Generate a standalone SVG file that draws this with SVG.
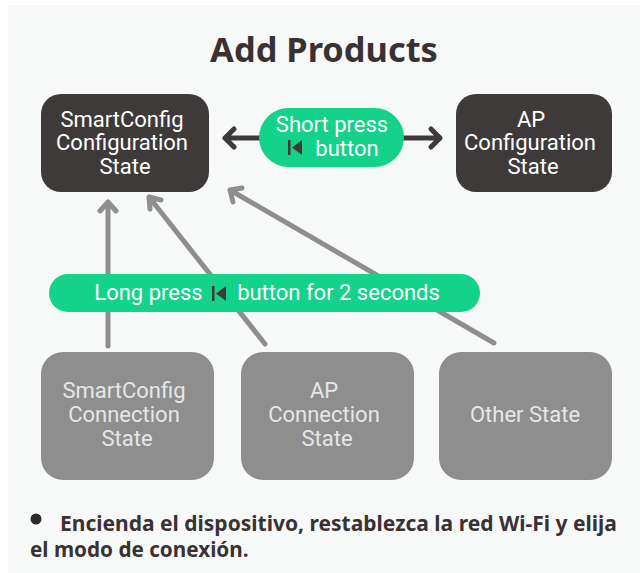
<svg xmlns="http://www.w3.org/2000/svg" width="640" height="573" viewBox="0 0 640 573">
<style>
.n{font-family:Roboto,"Liberation Sans",sans-serif;font-size:22px;font-weight:400;text-anchor:middle}
.w{fill:#fff}
.g{fill:#e6e6e6}
.dark{fill:#3e3a39}
.grey{fill:#8e8e8e}
.green{fill:#15d28a}
.ca{fill:none;stroke:#8e8e8e;stroke-width:5;stroke-linecap:round;stroke-linejoin:round}
.cd{fill:none;stroke:#3e3a39;stroke-width:5;stroke-linecap:round;stroke-linejoin:round}
.b{font-family:"Noto Sans","Open Sans",sans-serif;font-weight:700;fill:#3a3232}
</style>
<rect width="640" height="573" fill="#fff"/>
<rect x="8" y="5" width="632" height="568" fill="#f7f9f9"/>
<text x="324" y="62" class="b" font-size="34.400" text-anchor="middle">Add Products</text>
<g id="connectors">
<path class="cd" d="M225 138H262M234 129L225 138L234 147"/>
<path class="cd" d="M400 138H440M431 129L440 138L431 147"/>
<path class="ca" d="M108 346V202M100 211L108 202L116 211"/>
<path class="ca" d="M265 344L149 197M150 209L149 197L161 200"/>
<path class="ca" d="M494 343L230 190M233 202L230 190L242 188"/>
</g>
<g id="node-smartconfig-config"><rect class="dark" x="41" y="94" width="168" height="98" rx="20"/>
<text class="n w"><tspan x="122" y="127">SmartConfig</tspan><tspan x="122" y="150">Configuration</tspan><tspan x="125" y="174">State</tspan></text></g>
<g id="node-ap-config"><rect class="dark" x="456" y="94" width="156" height="98" rx="20"/>
<text class="n w"><tspan x="531" y="127">AP</tspan><tspan x="530" y="150">Configuration</tspan><tspan x="533" y="174">State</tspan></text></g>
<g id="node-short-press"><rect class="green" x="259" y="108" width="145" height="59" rx="29.500"/>
<text class="n w"><tspan x="332" y="132">Short press</tspan><tspan x="347" y="156">button</tspan></text>
<path class="dark" d="M288 140h2.500v15h-2.500zM302 140v15l-10-7.500z"/></g>
<g id="node-long-press"><rect class="green" x="49" y="274" width="431" height="38" rx="19"/>
<text class="n w"><tspan x="148.500" y="300">Long press</tspan><tspan x="338.500" y="300">button for 2 seconds</tspan></text>
<path class="dark" d="M212 286h2.500v15h-2.500zM226 286v15l-10-7.500z"/></g>
<g id="node-smartconfig-conn"><rect class="grey" x="41" y="352" width="173" height="128" rx="22"/>
<text class="n g"><tspan x="124" y="398">SmartConfig</tspan><tspan x="124" y="422">Connection</tspan><tspan x="127" y="446">State</tspan></text></g>
<g id="node-ap-conn"><rect class="grey" x="241" y="352" width="173" height="128" rx="22"/>
<text class="n g"><tspan x="324" y="398">AP</tspan><tspan x="324" y="422">Connection</tspan><tspan x="327" y="446">State</tspan></text></g>
<g id="node-other"><rect class="grey" x="439" y="352" width="173" height="128" rx="22"/>
<text class="n g" x="525" y="422">Other State</text></g>
<circle cx="36" cy="519" r="5.500" fill="#2f2a2a"/>
<text class="b" font-size="21" x="60" y="531">Encienda el dispositivo, restablezca la red Wi-Fi y elija</text>
<text class="b" font-size="20.700" x="30" y="557">el modo de conexión.</text>
</svg>
